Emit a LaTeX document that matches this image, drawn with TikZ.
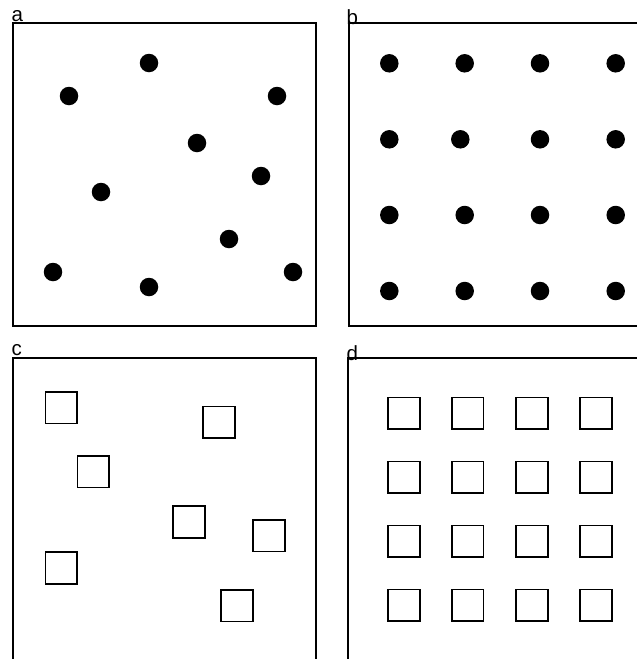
\documentclass[tikz,border=0pt]{standalone}
\usepackage{fontspec}
\setmainfont{Liberation Sans}
\begin{document}
\begin{tikzpicture}[x=1pt,y=-1pt,
  frame/.style={draw=black,line width=1.8pt},
  dot/.style={circle,fill=black,inner sep=0pt,minimum size=18.5pt},
  sq/.style={draw=black,line width=1.7pt,fill=white,inner sep=0pt,minimum size=31.5pt},
  lab/.style={anchor=base west,inner sep=0pt,font=\fontsize{20.5}{24}\selectfont}]
\useasboundingbox (0,0) rectangle (637,659);
\clip (0,0) rectangle (637,659);
% frames
\draw[frame] (13,23) rectangle (316,326);
\draw[frame] (349,23) rectangle (660,326);
\draw[frame] (13,358) rectangle (316,680);
\draw[frame] (348,358) rectangle (660,680);
% labels
\node[lab] (la) at (11.5,21) {a};
\node[lab] (lb) at (346.5,24.5) {b};
\node[lab] (lc) at (11.5,355.5) {c};
\node[lab] (ld) at (346.5,360) {d};
% panel a dots
\foreach \x/\y [count=\i] in {149/63,69/96,277/96,197/143,261/176,101/192,229/239,53/272,293/272,149/287}
  \node[dot] (a\i) at (\x,\y) {};
% panel b dots
\foreach \x/\y [count=\i] in {389.3/63.3,464.7/63.3,540/63.3,615.7/63.3,
  389.3/139.3,460.3/139.3,540/139.3,615.7/139.3,
  389.3/215,464.7/215,540/215,615.7/215,
  389.3/291,464.7/291,540/291,615.7/291}
  \node[dot] (b\i) at (\x,\y) {};
% panel c squares
\foreach \x/\y [count=\i] in {61.2/407.8,219/422.2,93.2/471.7,189/522,269/535.8,61.2/568,237/605.8}
  \node[sq] (c\i) at (\x,\y) {};
% panel d squares
\foreach \y [count=\r] in {413.2,477.3,541.3,605.3}
  \foreach \x [count=\c] in {404,467.8,532,596}
    \node[sq] (d\r\c) at (\x,\y) {};
\end{tikzpicture}
\end{document}
